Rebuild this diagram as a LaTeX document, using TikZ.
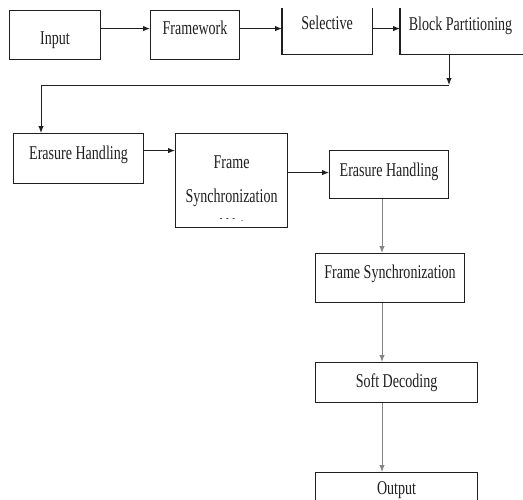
\documentclass[tikz,border=0pt]{standalone}
\usepackage{fontspec}
\setmainfont[FakeStretch=0.72]{Liberation Serif}
\usetikzlibrary{arrows.meta,positioning,calc}
\definecolor{ink}{HTML}{1F1F1F}
\definecolor{greyline}{HTML}{858585}
\tikzset{
    block/.style={draw=ink, line width=1.1pt, inner xsep=0pt, inner ysep=0pt, anchor=north west, align=center, text=ink, font=\fontsize{19.5}{34}\selectfont},
    openblock/.style={block, draw=none},
    edge/.style={ink, line width=1.1pt},
    arrow/.style={-{Latex[length=7pt,width=5.5pt]}, line width=1pt, ink},
    greyarrow/.style={arrow, greyline}
}

\begin{document}
\begin{tikzpicture}[x=1pt, y=-1pt]
  \useasboundingbox (0,0) rectangle (523,499);

  % Top row
  \node[block, minimum width=91pt, text height=34pt, text depth=15pt] (input) at (9,10) {Input};
  \node[block, minimum width=89pt, text height=24pt, text depth=25pt] (framework) at (150,10) {Framework};
  \node[openblock, minimum width=89pt, text height=21pt, text depth=24pt] (selective) at (282,8) {Selective};
  \node[openblock, minimum width=120pt, text height=22pt, text depth=23pt] (partition) at (400,8) {Block Partitioning};
  \draw[edge] (selective.north west) -- (selective.south west) -- (selective.south east) -- (selective.north east);
  \draw[edge] (partition.north west) -- (partition.south west) -- ([xshift=10pt]partition.south east);

  % Middle row
  \node[block, minimum width=130pt, text height=26pt, text depth=24pt] (erasureA) at (13,133) {Erasure Handling};
  \node[block, minimum width=112pt, minimum height=94pt] (syncA) at (175,133) {\rule{0pt}{30pt}Frame\\Synchronization\\[-15pt]{\fontsize{11}{11}\selectfont -\,\,-\,\,-\;\;.}};
  \node[block, minimum width=119pt, text height=26pt, text depth=22pt] (erasureB) at (329,150) {Erasure Handling};

  % Right column
  \node[block, minimum width=149pt, text height=25pt, text depth=24pt] (syncB) at (315,253) {Frame Synchronization};
  \node[block, minimum width=162pt, text height=25pt, text depth=15pt] (decoding) at (315,362) {Soft Decoding};
  \node[block, minimum width=162pt, text height=22pt, text depth=20pt] (output) at (315,472) {Output};

  % Connecting arrows
  \coordinate (turn) at (449,85);
  \coordinate (drop) at (41,85);
  \coordinate (spine) at (382,0);
  \draw[arrow] ([yshift=6.5pt]input.east) -- ([yshift=6.5pt]input.east -| framework.west);
  \draw[arrow] ([yshift=6.5pt]framework.east) -- ([yshift=6.5pt]framework.east -| selective.west);
  \draw[arrow] ([yshift=2.5pt]selective.east) -- ([yshift=2.5pt]selective.east -| partition.west);
  \draw[arrow] (partition.south -| turn) -- (turn);
  \draw[arrow] (turn) -- (drop) -- (drop |- erasureA.north);
  \draw[arrow] ([yshift=8pt]erasureA.east) -- ([yshift=8pt]erasureA.east -| syncA.west);
  \draw[arrow] ([yshift=8pt]syncA.east) -- ([yshift=8pt]syncA.east -| erasureB.west);
  \draw[greyarrow] (erasureB.south -| spine) -- (syncB.north -| spine);
  \draw[greyarrow] (syncB.south -| spine) -- (decoding.north -| spine);
  \draw[greyarrow] (decoding.south -| spine) -- (output.north -| spine);
\end{tikzpicture}
\end{document}
